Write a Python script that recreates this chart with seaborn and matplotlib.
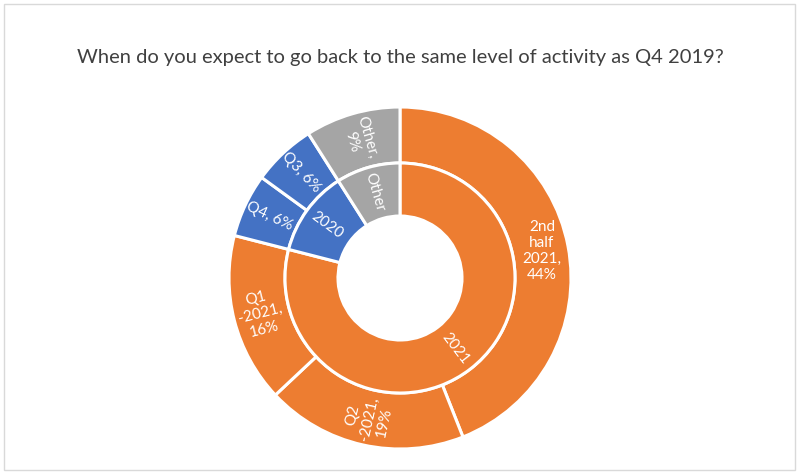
import numpy as np
import matplotlib
matplotlib.use("Agg")
import matplotlib.pyplot as plt
import seaborn as sns

sns.set_theme(style="white")
plt.rcParams['font.family'] = ['Lato', 'DejaVu Sans']

title = "When do you expect to go back to the same level of activity as Q4 2019?"

# Outer ring (clockwise from 12 o'clock)
outer_labels = ["2nd\nhalf\n2021,\n44%", "Q2\n-2021,\n19%", "Q1\n-2021,\n16%", "Q4, 6%", "Q3, 6%", "Other,\n9%"]
outer_values = [44, 19, 16, 6, 6, 9]
outer_groups = ["2021", "2021", "2021", "2020", "2020", "Other"]

# Inner ring
inner_labels = ["2021", "2020", "Other"]
inner_values = [79, 12, 9]

palette = {"2021": "#ED7D31", "2020": "#4472C4", "Other": "#A5A5A5"}

W, H = 800, 476
fig = plt.figure(figsize=(W / 100, H / 100), dpi=100)
fig.patch.set_facecolor("white")

cx, cy, R = 400, 278, 171
ax = fig.add_axes([(cx - R) / W, (H - cy - R) / H, 2 * R / W, 2 * R / H])
ax.set_xlim(-1, 1)
ax.set_ylim(-1, 1)
ax.set_aspect("equal")
ax.axis("off")

r_outer = 1.0
r_mid = 115 / R
r_hole = 62 / R

outer_colors = [palette[g] for g in outer_groups]
inner_colors = [palette[g] for g in inner_labels]

ax.pie(outer_values, radius=r_outer, colors=outer_colors, startangle=90, counterclock=False,
       wedgeprops=dict(width=r_outer - r_mid, edgecolor="white", linewidth=2.2))
ax.pie(inner_values, radius=r_mid, colors=inner_colors, startangle=90, counterclock=False,
       wedgeprops=dict(width=r_mid - r_hole, edgecolor="white", linewidth=2.2))
ax.set_xlim(-1, 1)
ax.set_ylim(-1, 1)


def place_labels(labels, values, r_label, horizontal_big):
    total = float(sum(values))
    cum = 0.0
    for lab, v in zip(labels, values):
        mid = (cum + v / 2) / total
        cum += v
        theta = np.deg2rad(90 - 360 * mid)
        x, y = r_label * np.cos(theta), r_label * np.sin(theta)
        rot = np.rad2deg(theta) % 360
        if 90 < rot < 270:
            rot -= 180
        if rot > 180:
            rot -= 360
        if horizontal_big and v / total > 0.4:
            rot = 0
        ax.text(x, y, lab, rotation=rot, rotation_mode="anchor", ha="center", va="center",
                color="white", fontsize=11, multialignment="center", linespacing=1.2)


place_labels(outer_labels, outer_values, 0.845, True)
place_labels(inner_labels, inner_values, 0.525, False)

fig.text(0.5, 1 - 58 / H, title, ha="center", va="center", fontsize=14.5, color="#404040")

border = plt.Rectangle((4 / W, 6 / H), 791 / W, 466 / H, transform=fig.transFigure,
                       fill=False, edgecolor="#D9D9D9", linewidth=1)
fig.patches.append(border)

fig.savefig("out.png", dpi=100, facecolor="white")
